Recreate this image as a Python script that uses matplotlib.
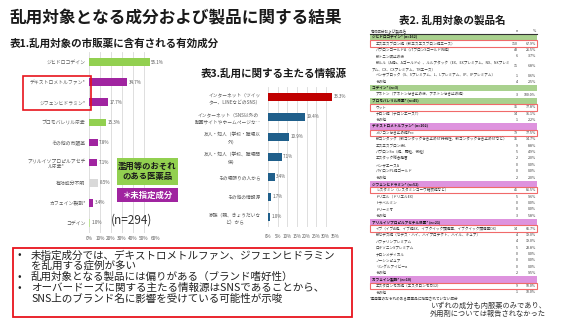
import matplotlib
matplotlib.use("Agg")
import matplotlib.pyplot as plt
from matplotlib.patches import Rectangle

plt.rcParams['font.family'] = ['Noto Sans CJK JP', 'DejaVu Sans']

# ---------------- data ----------------
ingredients1 = ["ジヒドロコデイン", "デキストロメトルファン*", "ジフェンヒドラミン*",
                "ブロモバレリル尿素", "その他の市販薬", "アリルイソプロピルアセチ\nル尿素*",
                "有効成分不明", "カフェイン製剤*", "コデイン"]
share1 = [55.1, 34.7, 17.7, 15.3, 7.8, 7.1, 8.5, 3.4, 1.0]
kind1 = ["regulated", "unspecified", "unspecified", "regulated", "unspecified",
         "unspecified", "unknown", "unspecified", "codeine"]
ticks1 = [0, 10, 20, 30, 40, 50, 60]

sources3 = ["インターネット（ツイッ\nター、LINEなどのSNS）",
            "インターネット（SNS以外の\n動画サイトやホームページな…",
            "友人・知人（学校・職場以\n外）",
            "友人・知人（学校、職場関\n係）",
            "その場限りの人から",
            "その他の情報源",
            "家族（親、きょうだいな\nど）から"]
share3 = [33.3, 19.4, 10.9, 7.1, 3.4, 1.7, 1.0]
ticks3 = [0, 5, 10, 15, 20, 25, 30, 35]

tbl_dhc_names = ["エスエスブロン錠（新エスエスブロン錠エース）",
                 "パブロンゴールドA（パブロンSゴールドW錠）",
                 "新トニン咳止め液",
                 "新ルル（A錠s、Aゴールドs）、ルルアタック（EX、EXプレミアム、NX、NXプレミ\nアム、CX、CXプレミアム、TRエース）",
                 "ベンザブロック（S、Sプレミアム、L、Lプレミアム、IP、IPプレミアム）",
                 "その他"]
tbl_dhc_n = [110, 43, 6, 11, 1, 4]
tbl_dhc_pct = [67.9, 26.5, 3.7, 6.8, 0.6, 2.5]

tbl_cod_names = ["アネトン（アネトンせき止め液、アネトンせき止め錠）"]
tbl_cod_n = [3]
tbl_cod_pct = [100.0]

tbl_bvu_names = ["ウット", "ナロン錠（ナロンエースT）", "その他"]
tbl_bvu_n = [35, 14, 1]
tbl_bvu_pct = [77.8, 31.1, 2.2]

tbl_dxm_names = ["メジコンせき止め錠Pro",
                 "新コンタック（新コンタックせき止めST持続性、新コンタックせき止めSTなど）",
                 "エスエスブロン液L", "パブロンSα（錠、顆粒、微粒）", "エスタック総合感冒",
                 "ベンザエースA", "パイロンPL錠ゴールド", "その他"]
tbl_dxm_n = [79, 15, 9, 5, 2, 0, 0, 2]
tbl_dxm_pct = [77.5, 14.7, 8.8, 4.9, 2.0, 0.0, 0.0, 2.0]

tbl_dph_names = ["レスタミン（レスタミンコーワ糖衣錠など）", "ドリエル（ドリエルEX）",
                 "トラベルミン", "ドリーミオ", "その他"]
tbl_dph_n = [45, 5, 0, 0, 3]
tbl_dph_pct = [86.5, 9.6, 0.0, 0.0, 5.8]

tbl_aiu_names = ["イブ（イブA錠、イブ錠EX、イブクイック頭痛薬、イブクイック頭痛薬DX）",
                 "新セデス錠（セデス・ハイ、ハイプロテクト、ハイル、キュア）",
                 "バファリンプレミアム", "ロキソニンSプレミアム", "ナロンメディカル",
                 "ノーシンピュア", "リングルアイビーα", "その他"]
tbl_aiu_n = [14, 4, 4, 5, 0, 0, 0, 2]
tbl_aiu_pct = [66.7, 19.0, 19.0, 23.8, 0.0, 0.0, 0.0, 9.5]

tbl_caf_names = ["エスタロンモカ錠（エスタロンモカ12）", "その他"]
tbl_caf_n = [9, 1]
tbl_caf_pct = [90.0, 10.0]

sections = [
    ("ジヒドロコデイン* (n=162)", "g", tbl_dhc_names, tbl_dhc_n, tbl_dhc_pct, True),
    ("コデイン* (n=3)", "g", tbl_cod_names, tbl_cod_n, tbl_cod_pct, False),
    ("ブロモバレリル尿素* (n=45)", "g", tbl_bvu_names, tbl_bvu_n, tbl_bvu_pct, True),
    ("デキストロメトルファン* (n=102)", "p", tbl_dxm_names, tbl_dxm_n, tbl_dxm_pct, True),
    ("ジフェンヒドラミン* (n=52)", "p", tbl_dph_names, tbl_dph_n, tbl_dph_pct, True),
    ("アリルイソプロピルアセチル尿素* (n=21)", "p", tbl_aiu_names, tbl_aiu_n, tbl_aiu_pct, True),
    ("カフェイン製剤* (n=10)", "p", tbl_caf_names, tbl_caf_n, tbl_caf_pct, True),
]

# ---------------- figure ----------------
W, H = 569, 320
fig = plt.figure(figsize=(W / 100, H / 100), dpi=100)
fig.patch.set_facecolor("white")

def fx(x):
    return x / W

def fy(y):
    return 1 - y / H

GREEN = "#92D050"
PURPLE = "#A024A0"
colmap = {"regulated": GREEN, "unspecified": PURPLE, "unknown": "#D9D9D9", "codeine": "#C0E49A"}
GRAY_T = "#595959"
GRID = "#D9D9D9"

# titles
fig.text(fx(10), fy(18), "乱用対象となる成分および製品に関する結果", fontsize=12.0,
         fontweight="bold", va="center", ha="left", color="#1a1a1a")
fig.text(fx(10), fy(44), "表1.乱用対象の市販薬に含有される有効成分", fontsize=7.6,
         fontweight="bold", va="center", ha="left", color="#1a1a1a")
fig.text(fx(274), fy(73), "表3.乱用に関する主たる情報源", fontsize=7.6,
         fontweight="bold", va="center", ha="center", color="#1a1a1a")
fig.text(fx(452), fy(21), "表2. 乱用対象の製品名", fontsize=7.6,
         fontweight="bold", va="center", ha="center", color="#1a1a1a")

# ---------------- chart 1 ----------------
ax1 = fig.add_axes([fx(89), fy(233), 66 / W, 181 / H])
y1 = list(range(len(share1)))
ax1.barh(y1, share1, color=[colmap[k] for k in kind1], height=0.38, zorder=3)
ax1.set_xlim(0, 60)
ax1.set_ylim(len(share1) - 0.5, -0.5)
ax1.set_xticks(ticks1)
ax1.set_xticklabels([f"{t}%" for t in ticks1], fontsize=3.4, color=GRAY_T)
ax1.set_yticks(y1)
ax1.set_yticklabels(ingredients1, fontsize=3.5, color=GRAY_T, multialignment="center")
ax1.tick_params(length=0, pad=2.5)
ax1.grid(axis="x", color=GRID, linewidth=0.6, zorder=0)
for s in ax1.spines.values():
    s.set_visible(False)
for yi, v in zip(y1, share1):
    ax1.text(v + 1.5, yi, f"{v}%", fontsize=3.3, color=GRAY_T, va="center", ha="left", zorder=4)

# red box around the two labels
fig.add_artist(Rectangle((fx(23), fy(110)), 68 / W, 34 / H, transform=fig.transFigure,
                         fill=False, edgecolor="#E8141C", linewidth=1.2))

# legend boxes
fig.add_artist(Rectangle((fx(117), fy(185)), 61 / W, 27 / H, transform=fig.transFigure,
                         facecolor=GREEN, edgecolor="none", zorder=5))
fig.text(fx(147.5), fy(171.5), "濫用等のおそれ\nのある医薬品", fontsize=6, color="#1a1a1a",
         ha="center", va="center", linespacing=1.15, fontweight="bold", zorder=6)
fig.add_artist(Rectangle((fx(117), fy(202)), 61 / W, 14 / H, transform=fig.transFigure,
                         facecolor=PURPLE, edgecolor="none", zorder=5))
fig.text(fx(147.5), fy(195), "＊未指定成分", fontsize=6, color="white",
         ha="center", va="center", fontweight="bold", zorder=6)
fig.text(fx(132), fy(220), "(n=294)", fontsize=8.5, color="#333333", ha="center", va="center")

# ---------------- chart 3 ----------------
ax3 = fig.add_axes([fx(268), fy(227), 67.5 / W, 140 / H])
y3 = list(range(len(share3)))
cols3 = ["#C00000"] + ["#1F5F8B"] * (len(share3) - 1)
ax3.barh(y3, share3, color=cols3, height=0.42, zorder=3)
ax3.set_xlim(0, 35)
ax3.set_ylim(len(share3) - 0.5, -0.5)
ax3.set_xticks(ticks3)
ax3.set_xticklabels([f"{t}%" for t in ticks3], fontsize=3.2, color=GRAY_T)
ax3.set_yticks(y3)
ax3.set_yticklabels(sources3, fontsize=3.4, color=GRAY_T, multialignment="center",
                    linespacing=1.6)
ax3.tick_params(length=0, pad=5)
ax3.grid(axis="x", color=GRID, linewidth=0.6, zorder=0)
for s in ax3.spines.values():
    s.set_visible(False)
for yi, v in zip(y3, share3):
    ax3.text(v + 0.8, yi, f"{v}%", fontsize=3.2, color=GRAY_T, va="center", ha="left", zorder=4)

# ---------------- table 2 ----------------
TL, TR = 370, 537
TFS = 2.6
fig.text(fx(371), fy(31.5), "有効成分および製品名", fontsize=TFS, color="#333333", va="center")
fig.text(fx(518), fy(31.5), "n", fontsize=TFS, color="#333333", va="center", ha="right")
fig.text(fx(536), fy(31.5), "%", fontsize=TFS, color="#333333", va="center", ha="right")
fig.add_artist(plt.Line2D([fx(TL), fx(TR)], [fy(34.3), fy(34.3)], color="#333333",
                          linewidth=0.8, transform=fig.transFigure))

slot_h = 6.375
slot = 0
for title, kc, names, ns, pcts, boxed in sections:
    yc = 37.3 + slot * slot_h
    fill = "#A9D18E" if kc == "g" else "#DE93DE"
    fig.add_artist(Rectangle((fx(TL), fy(yc + slot_h / 2)), (TR - TL) / W, slot_h / H,
                             transform=fig.transFigure, facecolor=fill, edgecolor="none"))
    fig.text(fx(372), fy(yc), title, fontsize=TFS, color="#111111", va="center",
             fontweight="bold")
    slot += 1
    for i, (nm, n, p) in enumerate(zip(names, ns, pcts)):
        parts = nm.split("\n")
        nlines = len(parts)
        yc = 37.3 + slot * slot_h
        ymid = yc + (nlines - 1) * slot_h / 2
        for li, line in enumerate(parts):
            fig.text(fx(376 if li == 0 else 372), fy(yc + li * slot_h), line, fontsize=TFS,
                     color="#333333", va="center")
        fig.text(fx(518), fy(ymid), f"{n}", fontsize=TFS, color="#333333", va="center", ha="right")
        fig.text(fx(536), fy(ymid), f"{p:.1f}%", fontsize=TFS, color="#333333", va="center", ha="right")
        if boxed and i == 0:
            fig.add_artist(Rectangle((fx(TL), fy(yc + slot_h / 2)), (TR - TL) / W, slot_h / H,
                                     transform=fig.transFigure, fill=False,
                                     edgecolor="#F06A6A", linewidth=0.8))
        slot += nlines

fig.text(fx(370), fy(299), "*濫用等のおそれのある医薬品に指定されていない成分", fontsize=2.6,
         color="#333333", va="center")
fig.text(fx(430), fy(305.5), "いずれの成分も内服薬のみであり、", fontsize=5.2,
         color="#333333", va="center")
fig.text(fx(430), fy(313.5), "外用剤については報告されなかった", fontsize=5.2,
         color="#333333", va="center")

# ---------------- bottom summary box ----------------
fig.add_artist(Rectangle((fx(13), fy(317)), 339 / W, 69 / H, transform=fig.transFigure,
                         fill=False, edgecolor="#E8141C", linewidth=1.3))
summary_lines = [
    ("•", "未指定成分では、デキストロメトルファン、ジフェンヒドラミン"),
    ("", "を乱用する症例が多い"),
    ("•", "乱用対象となる製品には偏りがある（ブランド嗜好性）"),
    ("•", "オーバードーズに関する主たる情報源はSNSであることから、"),
    ("", "SNS上のブランド名に影響を受けている可能性が示唆"),
]
ys = [255.5, 266, 277, 288, 299]
for (b, t), yy in zip(summary_lines, ys):
    if b:
        fig.text(fx(19), fy(yy), b, fontsize=7.5, color="#222222", va="center", ha="center")
    fig.text(fx(31), fy(yy), t, fontsize=7.6, color="#222222", va="center", ha="left")

fig.savefig("out.png", dpi=100, facecolor="white")
